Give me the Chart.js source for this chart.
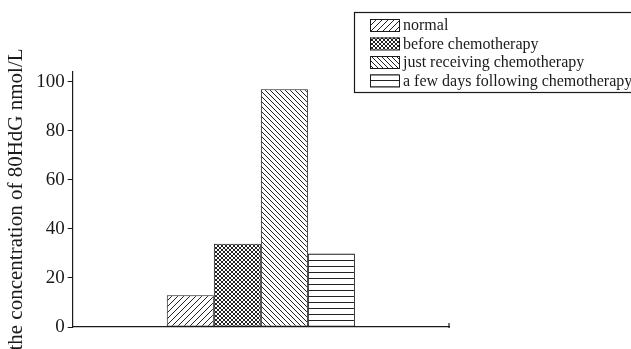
<!DOCTYPE html>
<html>
<head>
<meta charset="utf-8">
<script src="https://cdn.jsdelivr.net/npm/chart.js@4.4.1/dist/chart.umd.min.js"></script>
<style>
html,body{margin:0;padding:0;background:#fff;}
#wrap{width:631px;height:349px;position:relative;}
</style>
</head>
<body>
<div id="wrap"><canvas id="c" width="631" height="349"></canvas></div>
<script>
const categories = [''];
const seriesNames = ['normal', 'before chemotherapy', 'just receiving chemotherapy', 'a few days following chemotherapy'];
const normalValues = [13];
const beforeValues = [34];
const receivingValues = [97];
const followingValues = [30];
const yTickLabels = [0, 20, 40, 60, 80, 100];
const yTitle = 'the concentration of 80HdG nmol/L';

const FONT = '"Liberation Serif", "DejaVu Serif", serif';
const INK = '#1a1a1a';

function makePattern(kind) {
  const s = kind === 'cross' ? 4 : (kind === 'back' ? 5 : 6);
  const c = document.createElement('canvas');
  c.width = s; c.height = s;
  const g = c.getContext('2d');
  g.fillStyle = '#fff'; g.fillRect(0, 0, s, s);
  g.strokeStyle = '#222'; g.lineWidth = 1;
  g.beginPath();
  if (kind === 'fwd' || kind === 'cross') {
    g.moveTo(-1, s + 1); g.lineTo(s + 1, -1);
    g.moveTo(-1, 1); g.lineTo(1, -1);
    g.moveTo(s - 1, s + 1); g.lineTo(s + 1, s - 1);
  }
  if (kind === 'back' || kind === 'cross') {
    g.moveTo(-1, -1); g.lineTo(s + 1, s + 1);
    g.moveTo(s - 1, -1); g.lineTo(s + 1, 1);
    g.moveTo(-1, s - 1); g.lineTo(1, s + 1);
  }
  if (kind === 'horiz') {
    g.moveTo(0, 2.5); g.lineTo(s, 2.5);
  }
  g.stroke();
  return g.createPattern(c, 'repeat');
}

const ctx = document.getElementById('c').getContext('2d');
const patterns = [makePattern('fwd'), makePattern('cross'), makePattern('back'), makePattern('horiz')];
const valueArrays = [normalValues, beforeValues, receivingValues, followingValues];

const boxLegend = {
  id: 'boxLegend',
  afterDraw(chart) {
    const c = chart.ctx;
    const x0 = 354, y0 = 12, w = 290, rowH = 18.5, firstY = 25;
    const h = 80;
    c.save();
    c.strokeStyle = INK; c.lineWidth = 1.2;
    c.strokeRect(x0 + 0.5, y0 + 0.5, w, h);
    c.font = '16px ' + FONT;
    c.textBaseline = 'middle';
    chart.data.datasets.forEach((ds, i) => {
      const cy = firstY + i * rowH;
      c.fillStyle = ds.backgroundColor;
      c.fillRect(370, cy - 6, 29, 12);
      c.strokeStyle = INK; c.lineWidth = 1;
      c.strokeRect(370.5, cy - 5.5, 29, 12);
      c.fillStyle = INK;
      c.fillText(ds.label, 403, cy + 1);
    });
    c.restore();
  }
};

const endTick = {
  id: 'endTick',
  afterDraw(chart) {
    const a = chart.chartArea, c = chart.ctx;
    c.save();
    c.strokeStyle = INK; c.lineWidth = 1.2;
    c.beginPath();
    c.moveTo(a.right, a.bottom - 4); c.lineTo(a.right, a.bottom + 1);
    c.stroke();
    c.restore();
  }
};

new Chart(ctx, {
  type: 'bar',
  data: {
    labels: categories,
    datasets: seriesNames.map((name, i) => ({
      label: name,
      data: valueArrays[i],
      backgroundColor: patterns[i],
      borderColor: INK,
      borderWidth: 1,
      borderSkipped: false,
      categoryPercentage: 0.5,
      barPercentage: 1.0
    }))
  },
  options: {
    responsive: false,
    animation: false,
    layout: { padding: { left: 4, right: 182, top: 72, bottom: 14 } },
    plugins: { legend: { display: false }, tooltip: { enabled: false } },
    scales: {
      x: {
        grid: { display: false },
        border: { display: true, color: INK, width: 1.2 },
        ticks: { display: false }
      },
      y: {
        min: 0, max: 104,
        afterBuildTicks(scale) {
          scale.ticks = [];
          for (let v = 0; v <= 100; v += 10) scale.ticks.push({ value: v });
        },
        grid: { display: true, drawOnChartArea: false, drawTicks: true, tickLength: 5, color: INK, tickColor: INK },
        border: { display: true, color: INK, width: 1.2 },
        ticks: {
          padding: 3,
          color: INK,
          font: { family: FONT, size: 19 },
          callback: (v) => yTickLabels.includes(v) ? String(v) : ''
        },
        title: {
          display: true, text: yTitle, color: INK,
          font: { family: FONT, size: 21 },
          padding: { top: 0, bottom: 4 }
        }
      }
    }
  },
  plugins: [boxLegend, endTick]
});
</script>
</body>
</html>
